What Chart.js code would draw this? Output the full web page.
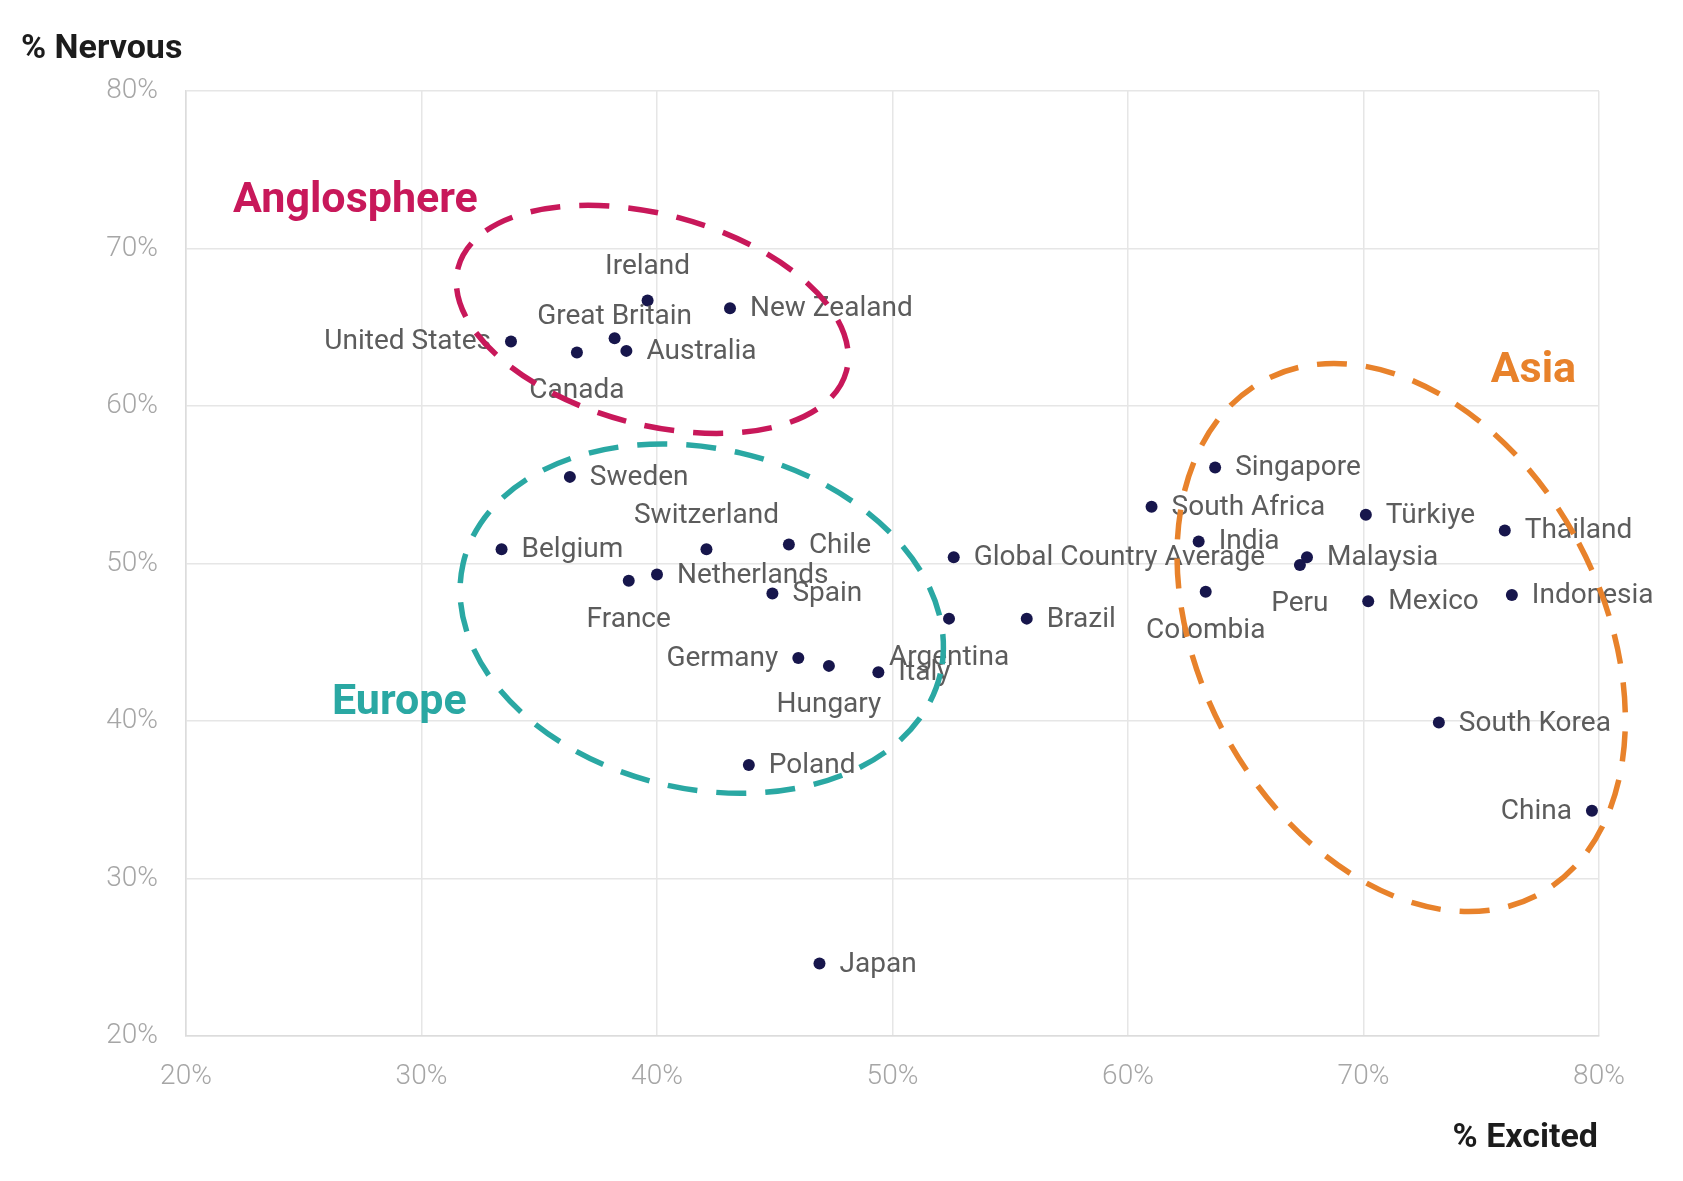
<!DOCTYPE html>
<html lang="en">
<head>
    <meta charset="UTF-8">
    <title>Excited vs Nervous</title>
    <script src="https://cdn.jsdelivr.net/npm/chart.js"></script>
    <style>
        html, body { margin: 0; padding: 0; background: #fff; }
        .wrap { width: 1683px; height: 1181px; position: relative; }
    </style>
</head>
<body>
    <div class="wrap"><canvas id="chart"></canvas></div>

    <script>
        // data
        const countries = [
            'United States', 'Canada', 'Great Britain', 'Australia', 'Ireland', 'New Zealand',
            'Sweden', 'Belgium', 'Switzerland', 'Chile', 'France', 'Netherlands', 'Spain',
            'Germany', 'Hungary', 'Italy', 'Argentina', 'Poland', 'Japan',
            'Global Country Average', 'Brazil', 'South Africa', 'Singapore', 'India', 'Colombia',
            'Peru', 'Malaysia', 'Türkiye', 'Mexico', 'Thailand', 'Indonesia', 'South Korea', 'China'
        ];
        const excited = [
            33.8, 36.6, 38.2, 38.7, 39.6, 43.1,
            36.3, 33.4, 42.1, 45.6, 38.8, 40.0, 44.9,
            46.0, 47.3, 49.4, 52.4, 43.9, 46.9,
            52.6, 55.7, 61.0, 63.7, 63.0, 63.3,
            67.3, 67.6, 70.1, 70.2, 76.0, 76.3, 73.2, 79.7
        ];
        const nervous = [
            64.1, 63.4, 64.3, 63.5, 66.7, 66.2,
            55.5, 50.9, 50.9, 51.2, 48.9, 49.3, 48.1,
            44.0, 43.5, 43.1, 46.5, 37.2, 24.6,
            50.4, 46.5, 53.6, 56.1, 51.4, 48.2,
            49.9, 50.4, 53.1, 47.6, 52.1, 48.0, 39.9, 34.3
        ];
        const xTicks = [20, 30, 40, 50, 60, 70, 80];
        const yTicks = [20, 30, 40, 50, 60, 70, 80];

        // where each country name sits relative to its dot
        const labelPos = [
            'left', 'below', 'aboveClose', 'right', 'above', 'right',
            'right', 'right', 'above', 'right', 'below', 'right', 'right',
            'left', 'below', 'right', 'below', 'right', 'right',
            'right', 'right', 'right', 'right', 'right', 'below',
            'below', 'right', 'right', 'right', 'right', 'right', 'right', 'left'
        ];

        // dashed group outlines (centre and radii in axis units)
        const groups = [
            { name: 'Anglosphere', color: '#c8185a', cx: 39.8, cy: 65.5, rx: 8.53, ry: 6.67, angle: 15, tx: 22.0, ty: 73.0 },
            { name: 'Europe', color: '#2aa8a3', cx: 41.9, cy: 46.5, rx: 10.4, ry: 10.8, angle: 13, tx: 26.2, ty: 41.1 },
            { name: 'Asia', color: '#e8822b', cx: 71.6, cy: 45.3, rx: 8.54, ry: 18.5, angle: -28, tx: 75.4, ty: 62.2 }
        ];

        const FONT = 'Roboto, "Open Sans", sans-serif';

        const annotations = {
            id: 'annotations',
            afterDatasetsDraw(chart) {
                const ctx = chart.ctx;
                const meta = chart.getDatasetMeta(0);
                ctx.save();
                ctx.font = '28px ' + FONT;
                ctx.fillStyle = '#5c5c5c';
                meta.data.forEach((pt, i) => {
                    const pos = labelPos[i];
                    let x = pt.x, y = pt.y;
                    if (pos === 'right') { ctx.textAlign = 'left'; x += 20; }
                    else if (pos === 'left') { ctx.textAlign = 'right'; x -= 20; }
                    else if (pos === 'above') { ctx.textAlign = 'center'; y -= 34; }
                    else if (pos === 'aboveClose') { ctx.textAlign = 'center'; y -= 22; }
                    else { ctx.textAlign = 'center'; y += 38; }
                    ctx.textBaseline = 'middle';
                    ctx.fillText(countries[i], x, y + 1);
                });
                ctx.restore();
            },
            afterDraw(chart) {
                const { ctx, scales: { x, y }, chartArea } = chart;
                ctx.save();
                groups.forEach(g => {
                    const cx = x.getPixelForValue(g.cx);
                    const cy = y.getPixelForValue(g.cy);
                    const rx = Math.abs(x.getPixelForValue(g.cx + g.rx) - cx);
                    const ry = Math.abs(y.getPixelForValue(g.cy + g.ry) - cy);
                    ctx.strokeStyle = g.color;
                    ctx.lineWidth = 5.5;
                    ctx.setLineDash([30, 19]);
                    ctx.beginPath();
                    ctx.ellipse(cx, cy, rx, ry, g.angle * Math.PI / 180, 0, Math.PI * 2);
                    ctx.stroke();

                    ctx.fillStyle = g.color;
                    ctx.font = 'bold 43px ' + FONT;
                    ctx.textAlign = 'left';
                    ctx.textBaseline = 'middle';
                    ctx.fillText(g.name, x.getPixelForValue(g.tx), y.getPixelForValue(g.ty));
                });

                // axis titles
                ctx.fillStyle = '#1c1c1c';
                ctx.font = 'bold 34px ' + FONT;
                ctx.textBaseline = 'middle';
                ctx.textAlign = 'left';
                ctx.fillText('% Nervous', 21, 49);
                ctx.textAlign = 'right';
                ctx.fillText('% Excited', chartArea.right - 1, 1138);
                ctx.restore();
            }
        };

        const points = excited.map((v, i) => ({ x: v, y: nervous[i] }));

        new Chart(document.getElementById('chart'), {
            type: 'scatter',
            data: {
                datasets: [{
                    data: points,
                    backgroundColor: '#17164c',
                    borderWidth: 0,
                    pointRadius: 6,
                    pointHoverRadius: 6
                }]
            },
            options: {
                responsive: true,
                maintainAspectRatio: false,
                animation: false,
                layout: { padding: { top: 91, right: 84, left: 0, bottom: 0 } },
                plugins: {
                    legend: { display: false },
                    tooltip: { enabled: false }
                },
                scales: {
                    x: {
                        type: 'linear',
                        min: 20,
                        max: 80,
                        afterBuildTicks: s => { s.ticks = xTicks.map(v => ({ value: v })); },
                        afterFit: s => { s.height = 145; },
                        grid: { color: '#e6e6e6', lineWidth: 1.5, drawTicks: false },
                        border: { color: '#dcdcdc', width: 1.5 },
                        ticks: {
                            padding: 24,
                            color: '#a6a6a6',
                            font: { family: FONT, size: 28, weight: 300 },
                            callback: v => v + '%'
                        }
                    },
                    y: {
                        type: 'linear',
                        min: 20,
                        max: 80,
                        afterBuildTicks: s => { s.ticks = yTicks.map(v => ({ value: v })); },
                        afterFit: s => { s.width = 186; },
                        grid: { color: '#e6e6e6', lineWidth: 1.5, drawTicks: false },
                        border: { color: '#dcdcdc', width: 1.5 },
                        ticks: {
                            padding: 28,
                            color: '#a6a6a6',
                            font: { family: FONT, size: 28, weight: 300 },
                            callback: v => v + '%'
                        }
                    }
                }
            },
            plugins: [annotations]
        });
    </script>
</body>
</html>
